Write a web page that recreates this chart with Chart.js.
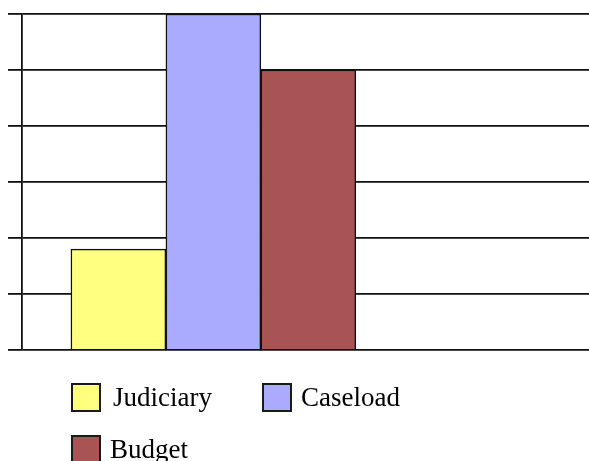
<!DOCTYPE html>
<html><head><meta charset="utf-8">
<script src="https://cdn.jsdelivr.net/npm/chart.js@4"></script>
<style>
html,body{margin:0;padding:0;background:#fff;}
#wrap{position:relative;width:589px;height:461px;overflow:hidden;}
#legend{position:absolute;left:71px;top:383px;display:grid;grid-template-columns:191px 191px;row-gap:23px;font-family:"Liberation Serif","Times New Roman",serif;font-size:27px;color:#000;pointer-events:none;}
.item{display:flex;align-items:center;height:29px;}
.box{width:30px;height:29px;box-sizing:border-box;border:2px solid #1a1a1a;flex:none;}
.lbl{margin-left:9px;white-space:nowrap;line-height:29px;}
.item:first-child .lbl{margin-left:12px;}
</style></head>
<body><div id="wrap"><canvas id="c" width="589" height="461"></canvas><div id="legend"></div></div>
<script>
const categories = ['Judiciary', 'Caseload', 'Budget'];
const xPositions = [1, 2, 3];
const values = [1.8, 6, 5];
const colors = ['#ffff80', '#aaaaff', '#a85454'];
const yMin = 0, yMax = 6, yStep = 1;

const htmlLegend = {
  id: 'htmlLegend',
  afterUpdate(chart) {
    const el = document.getElementById('legend');
    el.innerHTML = '';
    chart.data.datasets.forEach(ds => {
      const item = document.createElement('div'); item.className = 'item';
      const box = document.createElement('div'); box.className = 'box'; box.style.background = ds.backgroundColor;
      const lbl = document.createElement('span'); lbl.className = 'lbl'; lbl.textContent = ds.label;
      item.appendChild(box); item.appendChild(lbl); el.appendChild(item);
    });
  }
};

new Chart(document.getElementById('c'), {
  type: 'bar',
  data: {
    datasets: categories.map((name, i) => ({
      label: name,
      data: [{x: xPositions[i], y: values[i]}],
      backgroundColor: colors[i],
      borderColor: '#111',
      borderWidth: 1.5,
      grouped: false,
      categoryPercentage: 1,
      barPercentage: 1
    }))
  },
  options: {
    responsive: false,
    animation: false,
    devicePixelRatio: 1,
    layout: {padding: {left: 8, top: 14, right: 0, bottom: 111}},
    plugins: {legend: {display: false}, tooltip: {enabled: false}},
    scales: {
      x: {
        type: 'linear', min: -0.015, max: 5.955, display: false, offset: false,
        grid: {offset: false},
        ticks: {stepSize: 1},
        afterBuildTicks: s => { s.ticks = s.ticks.filter(t => Math.abs(t.value - Math.round(t.value)) < 1e-9); }
      },
      y: {
        min: yMin, max: yMax,
        ticks: {display: false, stepSize: yStep},
        grid: {color: '#111', lineWidth: 1.8, tickLength: 14, drawTicks: true},
        border: {display: true, color: '#111', width: 1.8}
      }
    }
  },
  plugins: [htmlLegend]
});
</script>
</body></html>
